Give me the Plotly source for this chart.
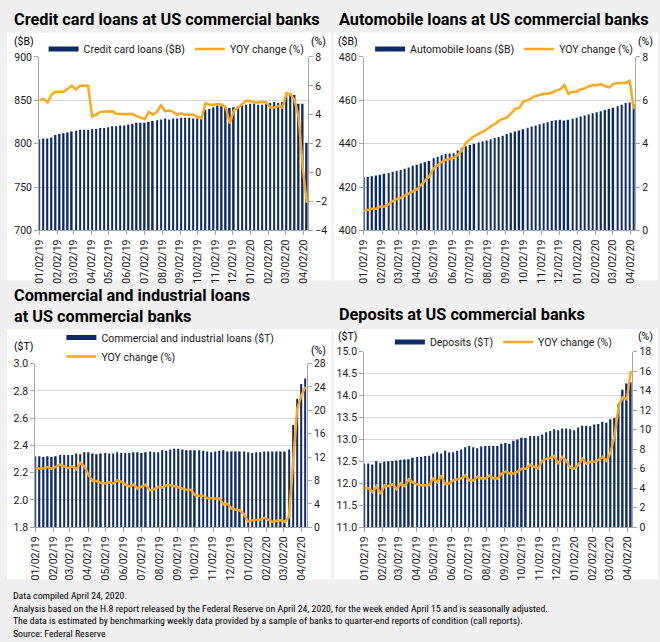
import plotly.graph_objects as go
import pandas as pd

W, H = 660, 642

# ---------------- data ----------------
week_dates = pd.date_range("2019-01-02", periods=67, freq="7D")
tick_dates = pd.date_range("2019-01-01", "2020-04-01", freq="MS") + pd.Timedelta(days=1)
tick_labels = [d.strftime("%m/%d/%y") for d in tick_dates]

cc_loans = [805, 806, 806, 807, 810, 811, 812, 813, 814, 815, 816, 816, 816,
            817, 817, 818, 818, 819, 820, 820, 821, 821, 822, 823, 824, 824, 824,
            825, 826, 827, 828, 829, 828, 829, 829, 830, 830, 830, 829, 829, 830,
            839, 840, 842, 844, 843, 842, 841, 842, 843, 844, 845, 846, 846, 845,
            845, 846, 847, 848, 847, 848, 858, 858, 856, 846, 846, 801]
cc_yoy = [5.0, 5.1, 4.85, 5.4, 5.6, 5.6, 5.6, 5.8, 6.0, 5.75, 6.0, 6.0, 6.0,
          3.9, 4.0, 4.2, 4.2, 4.25, 4.25, 4.05, 4.05, 4.0, 4.05, 4.05, 3.9, 3.8,
          3.7, 4.2, 4.0, 4.2, 4.65, 4.25, 4.3, 4.2, 4.0, 4.1, 4.0, 4.0, 4.0,
          3.85, 3.75, 4.8, 4.7, 4.7, 4.75, 4.7, 4.5, 3.4, 4.3, 4.5, 4.7, 4.95,
          4.95, 4.85, 4.85, 4.9, 4.85, 4.5, 4.5, 4.6, 4.5, 5.5, 5.4, 5.0, 3.8,
          0.3, -2.1]

auto_loans = [424.5, 424.6, 425.0, 425.3, 425.7, 426.1, 426.5, 427.0, 427.4, 427.8,
              428.4, 429.0, 429.8, 430.3, 430.8, 431.4, 432.0, 433.3, 434.0, 434.6,
              435.4, 435.5, 435.6, 436.8, 438.0, 438.8, 439.4, 440.0, 440.5, 441.0,
              441.5, 442.0, 442.6, 443.1, 443.6, 444.5, 445.0, 445.6, 446.1, 446.6,
              447.3, 447.9, 448.4, 448.9, 449.4, 449.9, 450.4, 450.8, 451.0, 450.7,
              451.0, 451.5, 452.0, 452.5, 453.0, 453.5, 454.0, 454.5, 455.0, 455.5,
              456.0, 456.6, 457.3, 458.0, 458.8, 459.0, 458.2]
auto_yoy = [0.9, 0.95, 1.0, 1.0, 1.1, 1.1, 1.2, 1.35, 1.45, 1.5,
            1.6, 1.7, 1.8, 1.9, 2.1, 2.3, 2.5, 2.85, 3.0, 3.15,
            3.25, 3.3, 3.35, 3.5, 3.7, 4.05, 4.2, 4.35, 4.45, 4.55,
            4.65, 4.8, 4.9, 5.05, 5.15, 5.2, 5.4, 5.6, 5.65, 5.95,
            6.0, 6.1, 6.2, 6.25, 6.3, 6.3, 6.35, 6.45, 6.5, 6.7,
            6.3, 6.4, 6.4, 6.5, 6.55, 6.65, 6.7, 6.7, 6.75, 6.65,
            6.6, 6.75, 6.8, 6.8, 6.8, 6.9, 5.6]

ci_loans = [2.32, 2.32, 2.315, 2.32, 2.315, 2.32, 2.33, 2.33, 2.33, 2.33,
            2.34, 2.335, 2.35, 2.35, 2.34, 2.335, 2.34, 2.345, 2.34, 2.34,
            2.35, 2.345, 2.345, 2.345, 2.35, 2.35, 2.345, 2.35, 2.355, 2.35,
            2.35, 2.365, 2.36, 2.37, 2.375, 2.375, 2.37, 2.365, 2.365, 2.365,
            2.365, 2.36, 2.355, 2.35, 2.355, 2.36, 2.365, 2.355, 2.355, 2.355,
            2.355, 2.355, 2.35, 2.345, 2.35, 2.35, 2.355, 2.355, 2.355, 2.355,
            2.355, 2.355, 2.37, 2.55, 2.74, 2.85, 2.89]
ci_yoy = [10.1, 10.0, 10.1, 10.3, 10.0, 10.3, 10.7, 10.4, 10.1, 10.4,
          9.9, 11.0, 10.4, 8.9, 7.9, 7.9, 7.6, 7.5, 7.7, 7.5,
          8.0, 7.8, 7.3, 7.0, 7.3, 6.6, 7.0, 7.3, 6.3, 6.5,
          6.9, 6.8, 7.2, 7.2, 7.0, 6.8, 6.5, 6.4, 6.4, 5.5,
          5.4, 5.4, 5.0, 4.9, 4.9, 4.9, 3.9, 4.0, 3.2, 3.0,
          2.9, 2.2, 1.0, 1.2, 1.3, 1.3, 1.6, 1.2, 0.9, 1.1,
          1.2, 0.9, 1.8, 11.0, 20.2, 22.5, 24.0]

dep = [12.45, 12.45, 12.43, 12.50, 12.46, 12.49, 12.50, 12.51, 12.52, 12.53,
       12.54, 12.55, 12.58, 12.60, 12.60, 12.62, 12.63, 12.68, 12.71, 12.68,
       12.74, 12.70, 12.71, 12.74, 12.77, 12.82, 12.85, 12.82, 12.80, 12.84,
       12.85, 12.85, 12.85, 12.85, 12.90, 12.92, 12.90, 12.97, 13.00, 13.04,
       13.03, 13.08, 13.08, 13.07, 13.11, 13.16, 13.19, 13.23, 13.21, 13.25,
       13.25, 13.23, 13.21, 13.27, 13.31, 13.31, 13.30, 13.34, 13.35, 13.40,
       13.38, 13.46, 13.49, 13.80, 14.13, 14.27, 14.30]
dep_yoy = [4.0, 4.0, 3.6, 4.2, 3.4, 4.3, 4.2, 4.4, 3.9, 4.5, 4.2,
           4.9, 4.6, 4.4, 4.3, 4.3, 4.3, 5.0, 4.6, 5.3, 4.4,
           4.5, 4.8, 4.9, 5.0, 5.3, 4.8, 4.8, 5.2, 5.0, 5.0,
           5.3, 5.0, 5.0, 5.5, 5.7, 5.5, 5.5, 5.7, 6.0, 6.0,
           6.4, 6.2, 6.0, 6.8, 7.0, 7.1, 7.3, 6.5, 7.2, 6.8,
           6.1, 6.0, 6.4, 7.0, 6.5, 6.7, 6.7, 6.9, 7.2, 6.8,
           7.7, 9.5, 12.5, 13.3, 13.1, 16.0]

titles = ["Credit card loans at US commercial banks",
          "Automobile loans at US commercial banks",
          "Commercial and industrial loans<br>at US commercial banks",
          "Deposits at US commercial banks"]
bar_names = ["Credit card loans ($B)", "Automobile loans ($B)",
             "Commercial and industrial loans ($T)", "Deposits ($T)"]
line_name = "YOY change (%)"
footer = ("Data compiled April 24, 2020.<br>"
          "Analysis based on the H.8 report released by the Federal Reserve on April 24, 2020, "
          "for the week ended April 15 and is seasonally adjusted.<br>"
          "The data is estimated by benchmarking weekly data provided by a sample of banks "
          "to quarter-end reports of condition (call reports).<br>"
          "Source: Federal Reserve")

# ---------------- style ----------------
NAVY = "#0e2a66"
ORANGE = "#fba81f"
GRID = "#d9d9d9"
AXC = "#a6a6a6"
BG = "#efefef"
FONT = "Roboto, Arial, sans-serif"
TXT = "#1a1a1a"


def fx(p):
    return p / W


def fy(p):
    return 1 - p / H


bar_w = 2.6 * 86400000
x_range = ["2019-01-01 12:00", "2020-04-10 12:00"]

panels = [
    dict(xd=(33.5, 305.5), yd=(52, 229), bars=cc_loans, line=cc_yoy,
         yl=dict(range=[700, 900], dtick=50, tickformat="d"),
         yr=dict(range=[-4, 8], dtick=2)),
    dict(xd=(361.5, 636), yd=(52, 229), bars=auto_loans, line=auto_yoy,
         yl=dict(range=[400, 480], dtick=20, tickformat="d"),
         yr=dict(range=[0, 8], dtick=2)),
    dict(xd=(29.5, 304), yd=(365, 532), bars=ci_loans, line=ci_yoy,
         yl=dict(range=[1.8, 3.0], dtick=0.2, tickformat=".1f"),
         yr=dict(range=[0, 28], dtick=4)),
    dict(xd=(362, 633), yd=(352.7, 532), bars=dep, line=dep_yoy,
         yl=dict(range=[11, 15], dtick=0.5, tickformat=".1f"),
         yr=dict(range=[0, 18], dtick=2)),
]

fig = go.Figure()
layout = dict(width=W, height=H, margin=dict(l=0, r=0, t=0, b=0),
              paper_bgcolor=BG, plot_bgcolor="rgba(0,0,0,0)",
              font=dict(family=FONT, size=10.5, color=TXT), showlegend=True)

tickfont = dict(family=FONT, size=10.5, color=TXT)
for k, p in enumerate(panels):
    xn = "x" if k == 0 else f"x{k + 1}"
    yl = "y" if k == 0 else f"y{2 * k + 1}"
    yr = f"y{2 * k + 2}"
    lg = "legend" if k == 0 else f"legend{k + 1}"
    fig.add_trace(go.Bar(x=week_dates, y=p["bars"], xaxis=xn, yaxis=yl,
                         marker=dict(color=NAVY, line=dict(width=0)),
                         width=bar_w, showlegend=False, hoverinfo="x+y"))
    # legend entry for the bars (drawn as a thick short bar like the original)
    fig.add_trace(go.Scatter(x=[None], y=[None], xaxis=xn, yaxis=yl, mode="lines",
                             line=dict(color=NAVY, width=5), name=bar_names[k],
                             legend=lg))
    fig.add_trace(go.Scatter(x=week_dates, y=p["line"], xaxis=xn, yaxis=yr,
                             mode="lines", line=dict(color=ORANGE, width=2.5),
                             name=line_name, legend=lg))
    xkey = "xaxis" if k == 0 else f"xaxis{k + 1}"
    ylkey = "yaxis" if k == 0 else f"yaxis{2 * k + 1}"
    yrkey = f"yaxis{2 * k + 2}"
    layout[xkey] = dict(domain=[fx(p["xd"][0]), fx(p["xd"][1])], anchor=yl,
                        type="date", range=x_range, tickvals=list(tick_dates),
                        ticktext=tick_labels, tickangle=-90, ticks="outside",
                        ticklen=4, tickcolor=AXC, showline=True, linecolor=AXC,
                        showgrid=False, tickfont=tickfont, fixedrange=True)
    layout[ylkey] = dict(domain=[fy(p["yd"][1]), fy(p["yd"][0])], anchor=xn,
                         ticks="outside", ticklen=4, tickcolor=AXC, showline=True,
                         linecolor=AXC, gridcolor=GRID, zeroline=False,
                         tickfont=tickfont, **p["yl"])
    layout[yrkey] = dict(overlaying=yl, anchor=xn, side="right", ticks="outside",
                         ticklen=4, tickcolor=AXC, showline=True, linecolor=AXC,
                         showgrid=False, zeroline=False, tickfont=tickfont, **p["yr"])

legend_common = dict(bgcolor="rgba(0,0,0,0)", font=dict(family=FONT, size=10.5, color=TXT),
                     xanchor="left", yanchor="middle", itemwidth=30, tracegroupgap=0)
layout["legend"] = dict(x=fx(38), y=fy(44), orientation="h", **legend_common)
layout["legend2"] = dict(x=fx(368), y=fy(44), orientation="h", **legend_common)
layout["legend3"] = dict(x=fx(56), y=fy(348), orientation="v", **legend_common)
layout["legend4"] = dict(x=fx(388), y=fy(343), orientation="h", **legend_common)

shapes = []
for (x0, y0, x1, y1) in [(1, 27, 329, 280), (331, 27, 659, 280),
                         (1, 330, 329, 585), (331, 330, 659, 585)]:
    shapes.append(dict(type="rect", xref="paper", yref="paper", x0=fx(x0), x1=fx(x1),
                       y0=fy(y1), y1=fy(y0), fillcolor="white", line=dict(width=0),
                       layer="below"))
layout["shapes"] = shapes

ann = []


def add_text(t, x, y, size=10.5, xanchor="left", yanchor="middle", bold=False,
             family=FONT, align="left"):
    ann.append(dict(text=f"<b>{t}</b>" if bold else t, x=fx(x), y=fy(y), xref="paper",
                    yref="paper", showarrow=False, xanchor=xanchor, yanchor=yanchor,
                    align=align, font=dict(family=family, size=size, color="#000")))


add_text(titles[0], 6, 14, size=16.3, bold=True)
add_text(titles[1], 335, 14, size=16.3, bold=True)
add_text(titles[2], 6, 306, size=16.3, bold=True)
add_text(titles[3], 335, 315, size=16.3, bold=True)
for (t, x, y, xa) in [("($B)", 6, 36, "left"), ("(%)", 325, 36, "right"),
                      ("($B)", 334, 36, "left"), ("(%)", 656, 36, "right"),
                      ("($T)", 6, 348, "left"), ("(%)", 325, 352, "right"),
                      ("($T)", 334, 337, "left"), ("(%)", 656, 337, "right")]:
    add_text(t, x, y, xanchor=xa)
add_text(footer, 5, 621, size=9.8, yanchor="middle",
         family="Liberation Sans Narrow, Roboto Condensed, Arial Narrow, sans-serif")
layout["annotations"] = ann

fig.update_layout(**layout)
fig.write_html("out.html")
